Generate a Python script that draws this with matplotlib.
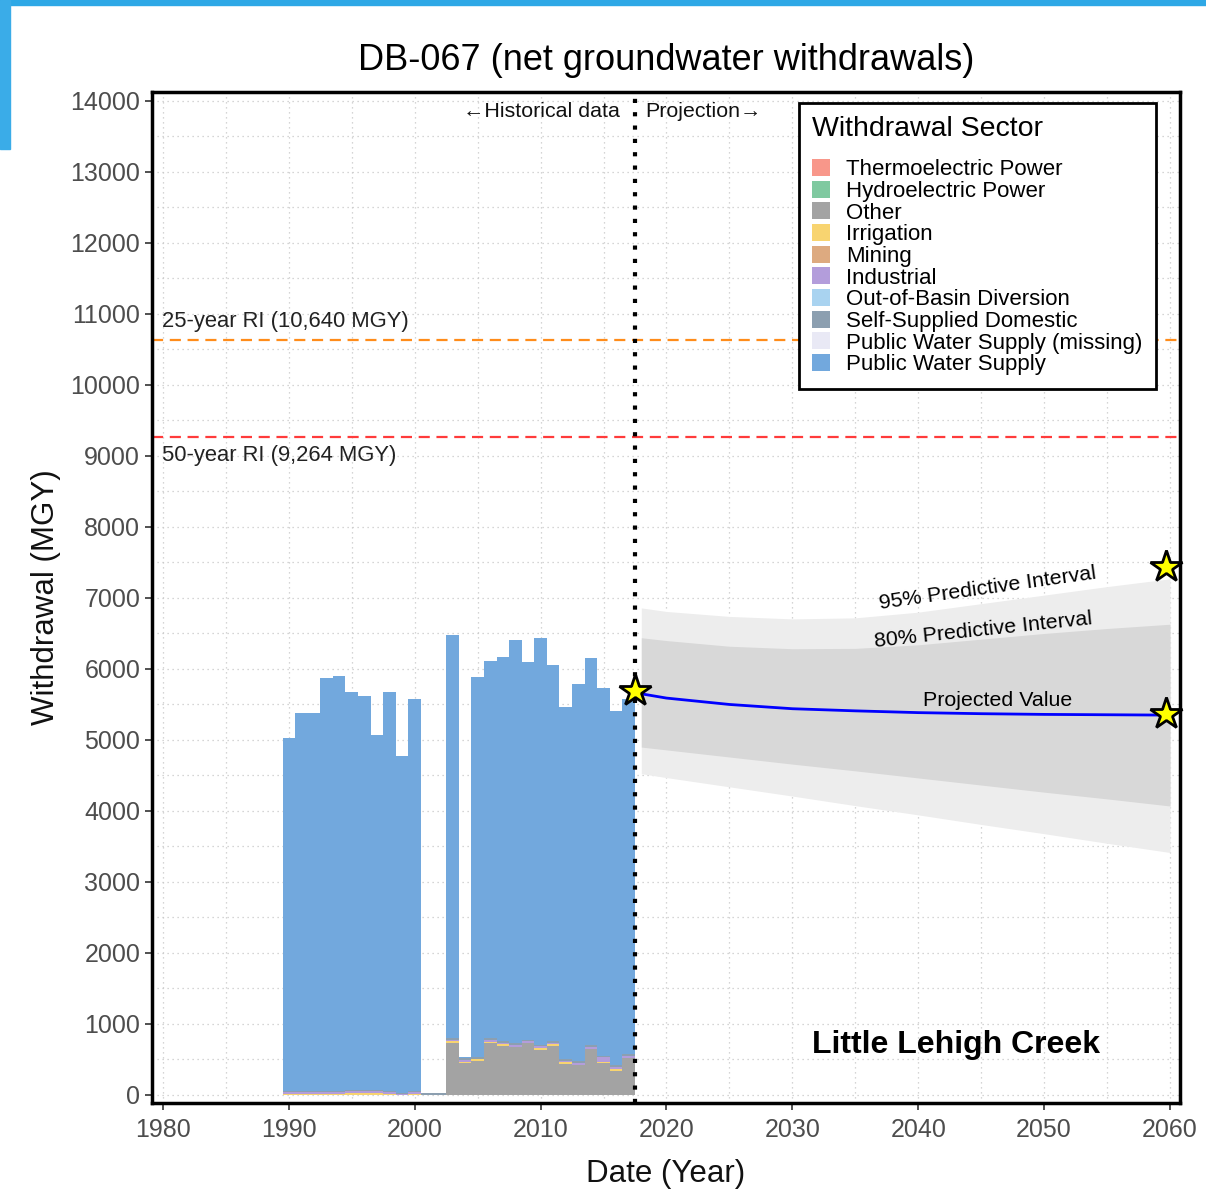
import numpy as np
import matplotlib
matplotlib.use("Agg")
import matplotlib.pyplot as plt
from matplotlib.patches import Rectangle, Patch
from matplotlib.ticker import MultipleLocator

plt.rcParams['font.family'] = ['Liberation Sans', 'DejaVu Sans']

# HISTORICAL DATA (MGY, stacked by sector)
years = list(range(1990, 2018))
other = [0, 0, 0, 0, 0, 0, 0, 0, 0, 0, 0, 0, 0,
         735, 445, 480, 730, 690, 675, 725, 635, 695, 440, 425, 650, 450, 340, 515]
irrigation = [20, 20, 20, 20, 20, 30, 30, 30, 20, 0, 20, 0, 0,
              20, 20, 20, 20, 25, 0, 0, 20, 20, 20, 0, 0, 20, 20, 0]
mining = [0] * 28
industrial = [20, 20, 20, 25, 25, 25, 25, 20, 20, 10, 15, 0, 0,
              20, 25, 10, 30, 20, 30, 30, 30, 20, 20, 30, 30, 60, 35, 40]
self_domestic = [15, 15, 15, 15, 15, 15, 15, 15, 15, 15, 15, 30, 30,
                 25, 25, 20, 25, 20, 25, 20, 25, 25, 20, 20, 25, 15, 25, 25]
public_supply = [4975, 5325, 5325, 5810, 5845, 5605, 5555, 5010, 5615, 4745, 5525, 0, 0,
                 5680, 15, 5360, 5310, 5410, 5680, 5325, 5720, 5300, 4960, 5315, 5450, 5185, 4990, 4995]

# PROJECTION
proj_years = [2017.5, 2018, 2020, 2025, 2030, 2035, 2040, 2045, 2050, 2055, 2060]
proj_value = [5690, 5650, 5590, 5500, 5440, 5410, 5385, 5370, 5360, 5355, 5350]
band_years = [2018, 2020, 2025, 2030, 2035, 2040, 2045, 2050, 2055, 2060]
upper95 = [6860, 6810, 6740, 6705, 6720, 6800, 6920, 7040, 7160, 7270]
lower95 = [4525, 4470, 4340, 4210, 4075, 3945, 3810, 3680, 3545, 3415]
upper80 = [6440, 6400, 6320, 6285, 6290, 6340, 6420, 6500, 6570, 6630]
lower80 = [4900, 4860, 4760, 4660, 4565, 4465, 4365, 4265, 4170, 4070]
star_x = [2017.5, 2059.7, 2059.7]
star_y = [5690, 7430, 5366]

ri25 = 10640
ri50 = 9264

sectors = ['Thermoelectric Power', 'Hydroelectric Power', 'Other', 'Irrigation', 'Mining',
           'Industrial', 'Out-of-Basin Diversion', 'Self-Supplied Domestic',
           'Public Water Supply (missing)', 'Public Water Supply']
colors = ['#F8978A', '#7FC9A0', '#A3A3A3', '#F8D470', '#DDAA80', '#B39DDB',
          '#A9D3F0', '#8C9FB0', '#E9E9F5', '#72A8DD']

stack = [('Other', other), ('Irrigation', irrigation), ('Mining', mining),
         ('Industrial', industrial), ('Self-Supplied Domestic', self_domestic),
         ('Public Water Supply', public_supply)]

fig = plt.figure(figsize=(12.06, 11.91), dpi=100)
ax = fig.add_axes([0.126, 0.0739, 0.8524, 0.8489])

# slide decoration
fig.patches.append(Rectangle((0, 0.9958), 1, 0.0042, transform=fig.transFigure,
                             color='#2EA8E6', zorder=0))
fig.patches.append(Rectangle((0, 0.875), 0.0083, 0.125, transform=fig.transFigure,
                             color='#3AACE8', zorder=0))

bottom = np.zeros(len(years))
for name, vals in stack:
    c = colors[sectors.index(name)]
    ax.bar(years, vals, width=1.0, bottom=bottom, color=c, linewidth=0, zorder=2)
    bottom += np.array(vals)

# prediction bands
ax.fill_between(band_years, lower95, upper95, color='#EDEDED', linewidth=0, zorder=1.5)
ax.fill_between(band_years, lower80, upper80, color='#D8D8D8', linewidth=0, zorder=1.6)
ax.plot(proj_years, proj_value, color='#0000FF', lw=2, zorder=3)
ax.plot(star_x, star_y, linestyle='none', marker='*', ms=24, mfc='#FFFF00',
        mec='black', mew=2, zorder=5, clip_on=False)

# return-interval lines
ax.axhline(ri25, color='#FF8C1A', lw=1.6, ls=(0, (5, 3)), zorder=2.5)
ax.axhline(ri50, color='#FF3B3B', lw=1.6, ls=(0, (5, 3)), zorder=2.5)
ax.text(1979.9, ri25 + 110, '25-year RI (10,640 MGY)', fontsize=15.8, color='#222222',
        va='bottom', ha='left', zorder=4)
ax.text(1979.9, ri50 - 110, '50-year RI (9,264 MGY)', fontsize=15.8, color='#222222',
        va='top', ha='left', zorder=4)

# historical / projection divider
ax.axvline(2017.5, color='black', lw=3, ls=(0, (1, 2.2)), zorder=4)
ax.text(2016.3, 13850, '\u2190Historical data', fontsize=15.4, ha='right', va='center',
        color='#111111')
ax.text(2018.3, 13850, 'Projection\u2192', fontsize=15.4, ha='left', va='center',
        color='#111111')

ax.text(2045.5, 7130, '95% Predictive Interval', fontsize=15.4, rotation=8,
        ha='center', va='center', rotation_mode='anchor')
ax.text(2045.2, 6550, '80% Predictive Interval', fontsize=15.4, rotation=6,
        ha='center', va='center', rotation_mode='anchor')
ax.text(2046.3, 5550, 'Projected Value', fontsize=15.4, ha='center', va='center')
ax.text(2043.0, 700, 'Little Lehigh Creek', fontsize=23, fontweight='bold',
        ha='center', va='center')

ax.set_xlim(1979.13, 2060.79)
ax.set_ylim(-113, 14127)
ax.xaxis.set_major_locator(MultipleLocator(10))
ax.xaxis.set_minor_locator(MultipleLocator(5))
ax.yaxis.set_major_locator(MultipleLocator(1000))
ax.yaxis.set_minor_locator(MultipleLocator(500))
ax.grid(True, which='both', color='#C8C8C8', lw=0.9, ls=(0, (1, 3)), zorder=0)
ax.set_axisbelow(True)
ax.tick_params(which='major', length=5, width=1.2, color='#333333',
               labelsize=18, labelcolor='#4D4D4D')
ax.tick_params(axis='x', pad=6)
ax.tick_params(which='minor', length=0)
for s in ax.spines.values():
    s.set_linewidth(2.5)
    s.set_color('black')

ax.set_xlabel('Date (Year)', fontsize=22.5, color='#111111', labelpad=12)
ax.set_ylabel('Withdrawal (MGY)', fontsize=22.5, color='#111111', labelpad=7)
ax.set_title('DB-067 (net groundwater withdrawals)', fontsize=26, pad=16)

handles = [Patch(facecolor=c, edgecolor='none') for c in colors]
leg = ax.legend(handles, sectors, title='Withdrawal Sector', loc='upper left',
                bbox_to_anchor=(0.629, 0.989), borderaxespad=0, fontsize=16,
                title_fontsize=20.5, fancybox=False, framealpha=1, edgecolor='black',
                labelspacing=0.02, handlelength=0.8, handleheight=0.8,
                handletextpad=0.75, borderpad=0.6)
leg.get_frame().set_linewidth(2)
leg._legend_box.align = 'left'
leg._legend_box.sep = 12
leg.set_zorder(6)

fig.savefig('out.png', dpi=100)
